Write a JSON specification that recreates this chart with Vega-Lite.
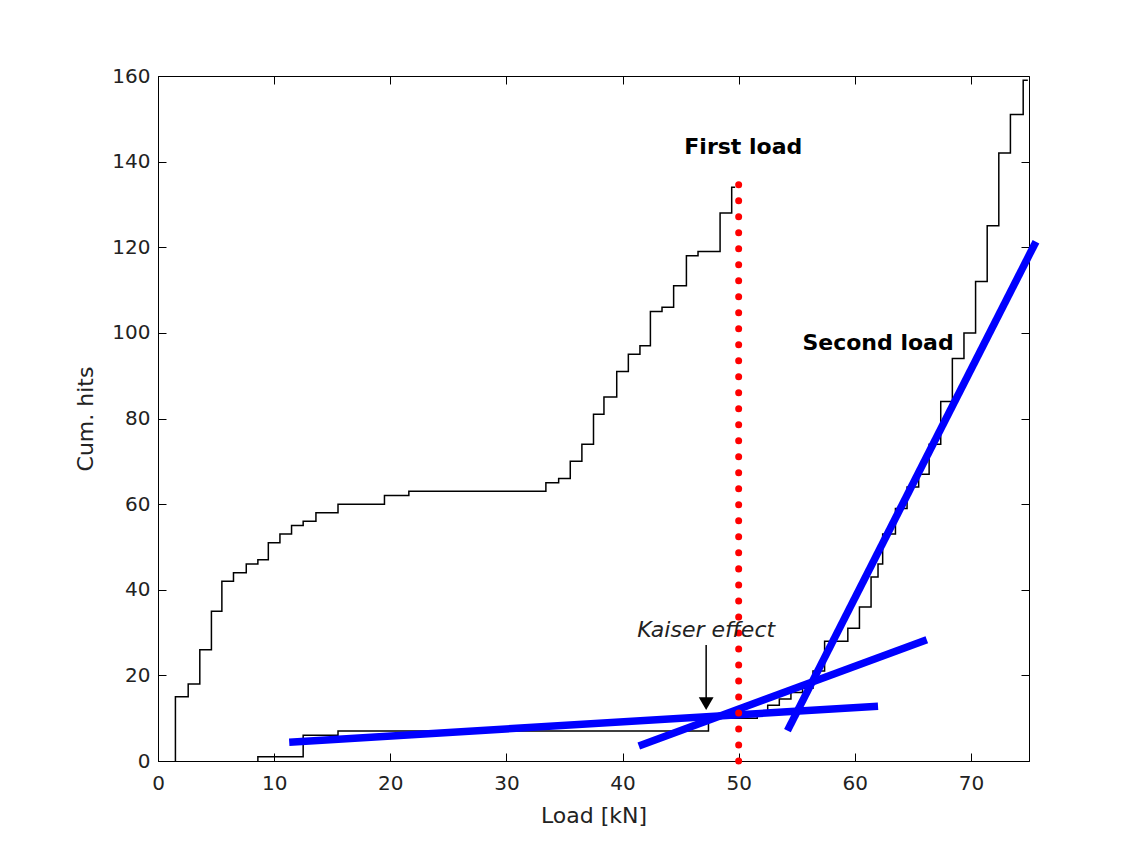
{
  "$schema": "https://vega.github.io/schema/vega-lite/v6.json",
  "autosize": {"type": "none"},
  "padding": {"left": 158, "top": 76, "right": 92, "bottom": 93},
  "width": 871,
  "height": 685,
  "background": "white",
  "config": {
    "view": {"stroke": "black", "strokeWidth": 1},
    "axis": {
      "grid": false,
      "domainColor": "black",
      "tickColor": "black",
      "tickSize": -8,
      "labelFlush": false,
      "labelFont": "DejaVu Sans",
      "labelFontSize": 20,
      "labelColor": "#222222",
      "titleFont": "DejaVu Sans",
      "titleFontSize": 22,
      "titleFontWeight": "normal",
      "titleColor": "#222222"
    }
  },
  "datasets": {
    "steps": [
      {"series": "First load", "i": 0, "load": 1.5, "hits": 0},
      {"series": "First load", "i": 1, "load": 1.5, "hits": 15},
      {"series": "First load", "i": 2, "load": 2.6, "hits": 18},
      {"series": "First load", "i": 3, "load": 3.6, "hits": 26},
      {"series": "First load", "i": 4, "load": 4.6, "hits": 35},
      {"series": "First load", "i": 5, "load": 5.5, "hits": 42},
      {"series": "First load", "i": 6, "load": 6.5, "hits": 44},
      {"series": "First load", "i": 7, "load": 7.6, "hits": 46},
      {"series": "First load", "i": 8, "load": 8.6, "hits": 47},
      {"series": "First load", "i": 9, "load": 9.5, "hits": 51},
      {"series": "First load", "i": 10, "load": 10.5, "hits": 53},
      {"series": "First load", "i": 11, "load": 11.5, "hits": 55},
      {"series": "First load", "i": 12, "load": 12.5, "hits": 56},
      {"series": "First load", "i": 13, "load": 13.6, "hits": 58},
      {"series": "First load", "i": 14, "load": 15.5, "hits": 60},
      {"series": "First load", "i": 15, "load": 19.5, "hits": 62},
      {"series": "First load", "i": 16, "load": 21.6, "hits": 63},
      {"series": "First load", "i": 17, "load": 33.4, "hits": 65},
      {"series": "First load", "i": 18, "load": 34.5, "hits": 66},
      {"series": "First load", "i": 19, "load": 35.5, "hits": 70},
      {"series": "First load", "i": 20, "load": 36.5, "hits": 74},
      {"series": "First load", "i": 21, "load": 37.5, "hits": 81},
      {"series": "First load", "i": 22, "load": 38.4, "hits": 85},
      {"series": "First load", "i": 23, "load": 39.5, "hits": 91},
      {"series": "First load", "i": 24, "load": 40.5, "hits": 95},
      {"series": "First load", "i": 25, "load": 41.5, "hits": 97},
      {"series": "First load", "i": 26, "load": 42.4, "hits": 105},
      {"series": "First load", "i": 27, "load": 43.4, "hits": 106},
      {"series": "First load", "i": 28, "load": 44.4, "hits": 111},
      {"series": "First load", "i": 29, "load": 45.5, "hits": 118},
      {"series": "First load", "i": 30, "load": 46.5, "hits": 119},
      {"series": "First load", "i": 31, "load": 48.4, "hits": 128},
      {"series": "First load", "i": 32, "load": 49.4, "hits": 134},
      {"series": "First load", "i": 33, "load": 49.7, "hits": 134},
      {"series": "Second load", "i": 0, "load": 8.6, "hits": 0},
      {"series": "Second load", "i": 1, "load": 8.6, "hits": 1},
      {"series": "Second load", "i": 2, "load": 12.5, "hits": 6},
      {"series": "Second load", "i": 3, "load": 15.5, "hits": 7},
      {"series": "Second load", "i": 4, "load": 47.4, "hits": 10},
      {"series": "Second load", "i": 5, "load": 51.6, "hits": 11.5},
      {"series": "Second load", "i": 6, "load": 52.5, "hits": 13},
      {"series": "Second load", "i": 7, "load": 53.5, "hits": 14.5},
      {"series": "Second load", "i": 8, "load": 54.5, "hits": 16},
      {"series": "Second load", "i": 9, "load": 55.5, "hits": 17},
      {"series": "Second load", "i": 10, "load": 56.4, "hits": 21},
      {"series": "Second load", "i": 11, "load": 57.4, "hits": 28},
      {"series": "Second load", "i": 12, "load": 59.4, "hits": 31},
      {"series": "Second load", "i": 13, "load": 60.4, "hits": 36},
      {"series": "Second load", "i": 14, "load": 61.4, "hits": 43},
      {"series": "Second load", "i": 15, "load": 62.0, "hits": 46},
      {"series": "Second load", "i": 16, "load": 62.4, "hits": 53},
      {"series": "Second load", "i": 17, "load": 63.5, "hits": 59},
      {"series": "Second load", "i": 18, "load": 64.5, "hits": 64},
      {"series": "Second load", "i": 19, "load": 65.5, "hits": 67},
      {"series": "Second load", "i": 20, "load": 66.4, "hits": 74},
      {"series": "Second load", "i": 21, "load": 67.4, "hits": 84},
      {"series": "Second load", "i": 22, "load": 68.4, "hits": 94},
      {"series": "Second load", "i": 23, "load": 69.4, "hits": 100},
      {"series": "Second load", "i": 24, "load": 70.4, "hits": 112},
      {"series": "Second load", "i": 25, "load": 71.4, "hits": 125},
      {"series": "Second load", "i": 26, "load": 72.4, "hits": 142},
      {"series": "Second load", "i": 27, "load": 73.4, "hits": 151},
      {"series": "Second load", "i": 28, "load": 74.5, "hits": 159},
      {"series": "Second load", "i": 29, "load": 74.9, "hits": 159}
    ],
    "fits": [
      {"line": "A", "load": 11.3, "hits": 4.4},
      {"line": "A", "load": 62.0, "hits": 12.8},
      {"line": "B", "load": 41.4, "hits": 3.5},
      {"line": "B", "load": 66.2, "hits": 28.3},
      {"line": "C", "load": 54.2, "hits": 7.1},
      {"line": "C", "load": 75.6, "hits": 121.3}
    ],
    "marker": [{"load": 50, "from": 0, "to": 135}],
    "bold_labels": [
      {"text": "First load", "load": 50.4, "hits": 143.4},
      {"text": "Second load", "load": 62.0, "hits": 97.6}
    ],
    "kaiser": [{"text": "Kaiser effect", "load": 47.2, "hits": 30.6, "from": 27.1, "to": 14.0, "head": 13.4}]
  },
  "layer": [
    {
      "data": {"name": "steps"},
      "mark": {"type": "line", "interpolate": "step-after", "color": "black", "strokeWidth": 1.5},
      "encoding": {
        "x": {
          "field": "load", "type": "quantitative",
          "scale": {"domain": [0, 75], "nice": false, "zero": false},
          "axis": {"values": [0, 10, 20, 30, 40, 50, 60, 70], "title": "Load [kN]", "labelPadding": 20, "titlePadding": 12}
        },
        "y": {
          "field": "hits", "type": "quantitative",
          "scale": {"domain": [0, 160], "nice": false},
          "axis": {"values": [0, 20, 40, 60, 80, 100, 120, 140, 160], "title": "Cum. hits", "labelPadding": 16, "titlePadding": 14}
        },
        "detail": {"field": "series"},
        "order": {"field": "i", "type": "quantitative"}
      }
    },
    {
      "data": {"name": "fits"},
      "mark": {"type": "line", "color": "#0000ff", "strokeWidth": 7.5, "strokeCap": "butt", "clip": false},
      "encoding": {
        "x": {"field": "load", "type": "quantitative", "axis": {"orient": "top", "labels": false, "title": null, "domain": false, "values": [0, 10, 20, 30, 40, 50, 60, 70]}},
        "y": {"field": "hits", "type": "quantitative", "axis": {"orient": "right", "labels": false, "title": null, "domain": false, "values": [0, 20, 40, 60, 80, 100, 120, 140, 160]}},
        "detail": {"field": "line"}
      }
    },
    {
      "data": {"name": "marker"},
      "mark": {"type": "rule", "color": "#ff0000", "strokeWidth": 7, "strokeCap": "round", "strokeDash": [0.01, 16]},
      "encoding": {
        "x": {"field": "load", "type": "quantitative", "axis": null},
        "y": {"field": "from", "type": "quantitative", "axis": null},
        "y2": {"field": "to"}
      }
    },
    {
      "data": {"name": "bold_labels"},
      "mark": {"type": "text", "font": "DejaVu Sans", "fontSize": 22, "fontWeight": "bold", "color": "black", "baseline": "middle", "align": "center"},
      "encoding": {
        "x": {"field": "load", "type": "quantitative", "axis": null},
        "y": {"field": "hits", "type": "quantitative", "axis": null},
        "text": {"field": "text"}
      }
    },
    {
      "data": {"name": "kaiser"},
      "mark": {"type": "text", "font": "DejaVu Sans", "fontSize": 22, "fontStyle": "italic", "color": "#222222", "baseline": "middle", "align": "center"},
      "encoding": {
        "x": {"field": "load", "type": "quantitative", "axis": null},
        "y": {"field": "hits", "type": "quantitative", "axis": null},
        "text": {"field": "text"}
      }
    },
    {
      "data": {"name": "kaiser"},
      "mark": {"type": "rule", "color": "black", "strokeWidth": 1.5},
      "encoding": {
        "x": {"field": "load", "type": "quantitative", "axis": null},
        "y": {"field": "from", "type": "quantitative", "axis": null},
        "y2": {"field": "to"}
      }
    },
    {
      "data": {"name": "kaiser"},
      "mark": {"type": "point", "shape": "triangle-down", "filled": true, "color": "black", "size": 220, "opacity": 1},
      "encoding": {
        "x": {"field": "load", "type": "quantitative", "axis": null},
        "y": {"field": "head", "type": "quantitative", "axis": null}
      }
    }
  ],
  "resolve": {"axis": {"x": "independent", "y": "independent"}}
}
